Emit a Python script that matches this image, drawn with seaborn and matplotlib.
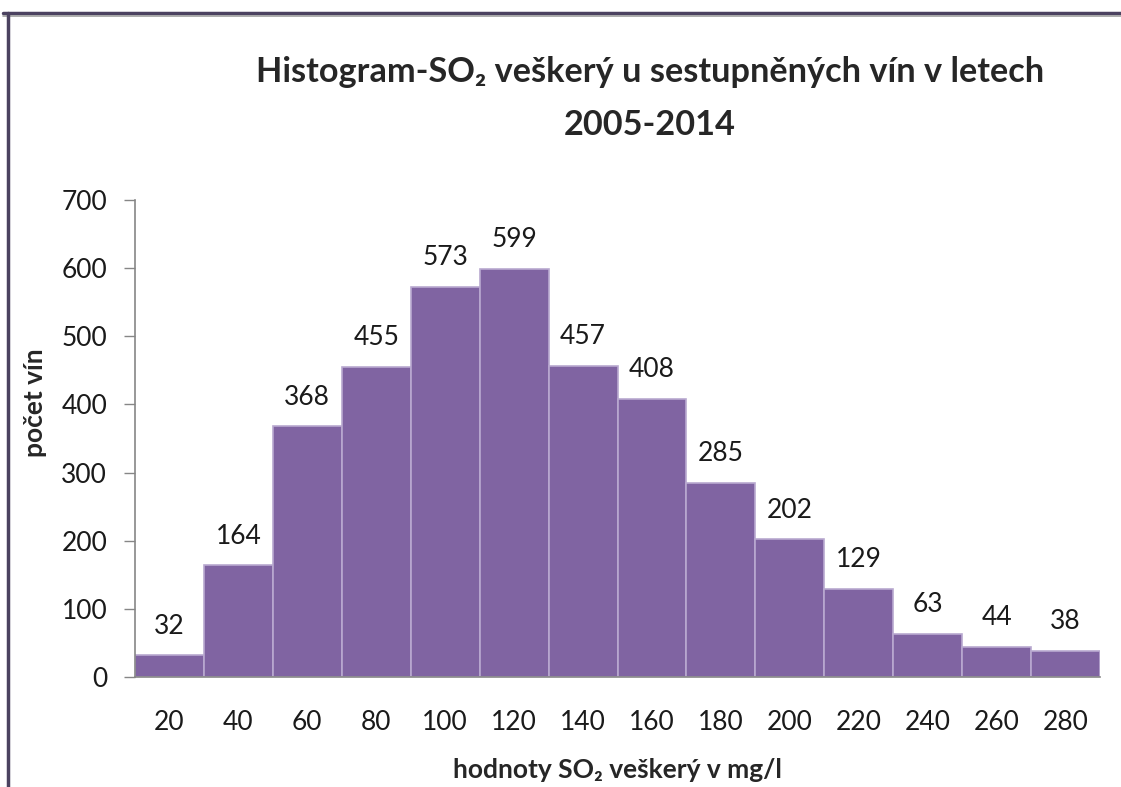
import matplotlib
matplotlib.use("Agg")
import matplotlib.pyplot as plt
import seaborn as sns
from matplotlib.lines import Line2D

# hodnoty z histogramu
bins = ["20", "40", "60", "80", "100", "120", "140", "160", "180", "200", "220", "240", "260", "280"]
counts = [32, 164, 368, 455, 573, 599, 457, 408, 285, 202, 129, 63, 44, 38]
y_ticks = [0, 100, 200, 300, 400, 500, 600, 700]

sns.set_style("white")
plt.rcParams['font.family'] = ['Lato', 'DejaVu Sans']

fig = plt.figure(figsize=(11.21, 7.87), dpi=100)
ax = fig.add_axes([0.1204, 0.1398, 0.8609, 0.6061])

sns.barplot(x=bins, y=counts, order=bins, color="#8064A2", saturation=1,
            width=1.0, edgecolor="#B9A9D0", linewidth=1.2, ax=ax)

for i, v in enumerate(counts):
    ax.annotate(str(v), (i, v), xytext=(0, 12), textcoords="offset points",
                ha="center", va="bottom", fontsize=19, color="#1a1a1a")

ax.set_ylim(0, 700)
ax.set_yticks(y_ticks)
ax.set_xlabel("")
ax.set_ylabel("")
ax.tick_params(axis="y", length=8, width=1, color="#868686", pad=12,
               labelsize=19, labelcolor="#1a1a1a", left=True)
ax.tick_params(axis="x", length=0, pad=24, labelsize=19, labelcolor="#1a1a1a")
for side in ["top", "right"]:
    ax.spines[side].set_visible(False)
for side in ["left", "bottom"]:
    ax.spines[side].set_color("#868686")
    ax.spines[side].set_linewidth(1.2)

fig.text(0.58, 0.908, "Histogram-SO₂ veškerý u sestupněných vín v letech",
         ha="center", va="center", fontsize=24.7, fontweight="bold")
fig.text(0.58, 0.841, "2005-2014",
         ha="center", va="center", fontsize=24.7, fontweight="bold")

fig.text(0.031, 1 - 403 / 787, "počet vín", rotation=90, ha="center", va="center",
         fontsize=19, fontweight="bold")
fig.text(0.551, 1 - 770 / 787, "hodnoty SO₂ veškerý v mg/l", ha="center", va="center",
         fontsize=19, fontweight="bold")

# rámeček grafu
fig.add_artist(Line2D([0.003, 1], [0.9835, 0.9835], transform=fig.transFigure,
                      color="#4B4260", lw=2.5))
fig.add_artist(Line2D([0.003, 1], [0.980, 0.980], transform=fig.transFigure,
                      color="#A0A0A0", lw=1.2))
fig.add_artist(Line2D([0.0075, 0.0075], [0, 0.9835], transform=fig.transFigure,
                      color="#4B4260", lw=2.5))

fig.savefig("out.png", dpi=100)
